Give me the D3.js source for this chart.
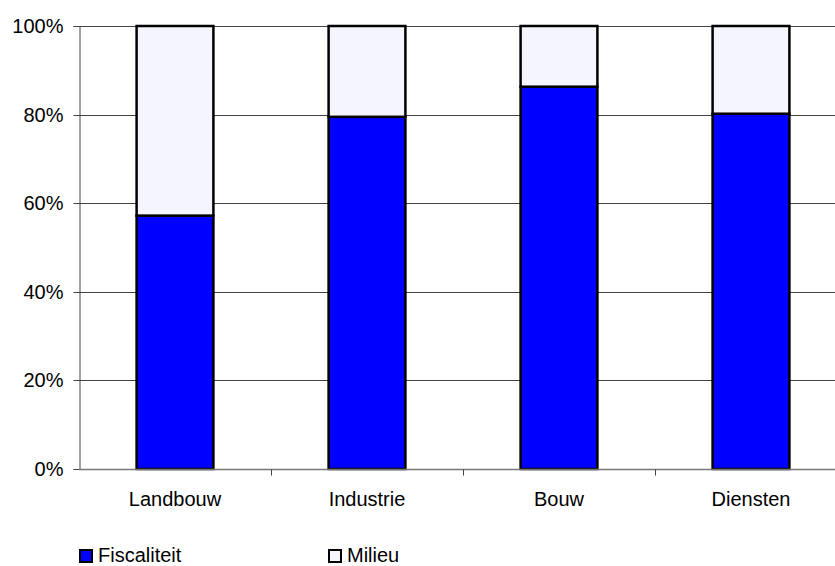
<!DOCTYPE html>
<html><head><meta charset="utf-8">
<script src="https://cdn.jsdelivr.net/npm/d3@7"></script>
<style>body{margin:0;background:#fff}svg{display:block}text{font-family:"Liberation Sans",Arial,sans-serif}</style>
</head><body>
<svg id="c" width="835" height="566"></svg>
<script>
const categories = ["Landbouw","Industrie","Bouw","Diensten"];
const fiscaliteit = [0.572, 0.795, 0.863, 0.802];
const milieu = [0.428, 0.205, 0.137, 0.198];
const seriesNames = ["Fiscaliteit","Milieu"];
const seriesColors = ["#0000ff","#f5f5ff"];
const yTicks = [0,0.2,0.4,0.6,0.8,1.0];

(function(){
const svg = d3.select("#c");
const mLeft = 79, mTop = 26, mBottom = 469, mRight = 847;
const FS = 20;
const x = d3.scaleBand().domain(categories).range([mLeft,mRight]).paddingInner(0.6).paddingOuter(0.3);
const xb = d3.scaleBand().domain(categories).range([mLeft,mRight]);
const y = d3.scaleLinear().domain([0,1]).range([mBottom,mTop]);

// gridlines
svg.append("g").selectAll("line").data(yTicks.slice(1)).join("line")
  .attr("x1",mLeft).attr("x2",835).attr("y1",d=>Math.round(y(d))+0.5).attr("y2",d=>Math.round(y(d))+0.5)
  .attr("stroke","#444").attr("stroke-width",1);

// y axis
const ya = svg.append("g").attr("transform",`translate(${mLeft+0.5},0)`)
  .call(d3.axisLeft(y).tickValues(yTicks).tickFormat(d3.format(".0%")).tickSize(6).tickPadding(10));
ya.attr("font-size",FS).attr("font-family","Liberation Sans, Arial, sans-serif");
ya.select(".domain").attr("stroke","#444");
ya.selectAll(".tick line").attr("stroke","#444");
ya.selectAll("text").attr("fill","#000");
ya.selectAll(".tick").attr("transform",d=>`translate(0,${Math.round(y(d))+0.5})`);

// stacked bars
const data = categories.map((c,i)=>({c, f:fiscaliteit[i], m:milieu[i]}));
const stack = d3.stack().keys(["f","m"])(data);
svg.append("g").selectAll("g").data(stack).join("g")
  .attr("fill",(d,i)=>seriesColors[i])
  .selectAll("rect").data(d=>d).join("rect")
  .attr("x",d=>x(d.data.c)).attr("width",x.bandwidth())
  .attr("y",d=>y(d[1])).attr("height",d=>y(d[0])-y(d[1]))
  .attr("stroke","#000").attr("stroke-width",2.5);

// x axis
const xa = svg.append("g").attr("transform",`translate(0,${mBottom+0.5})`);
xa.append("line").attr("x1",mLeft).attr("x2",835).attr("stroke","#777").attr("stroke-width",1.5);
xa.selectAll("line.t").data(categories.slice(1)).join("line").attr("class","t")
  .attr("x1",d=>Math.round(xb(d))+0.5).attr("x2",d=>Math.round(xb(d))+0.5).attr("y1",0).attr("y2",6)
  .attr("stroke","#444");
xa.selectAll("text").data(categories).join("text")
  .attr("x",d=>x(d)+x.bandwidth()/2).attr("y",36).attr("text-anchor","middle")
  .attr("font-size",FS).text(d=>d);

// legend
const lx = [79, 328];
const lg = svg.append("g").selectAll("g").data(seriesNames).join("g")
  .attr("transform",(d,i)=>`translate(${lx[i]},549)`);
lg.append("rect").attr("x",1).attr("y",1).attr("width",12).attr("height",12)
  .attr("fill",(d,i)=>seriesColors[i]).attr("stroke","#000").attr("stroke-width",2);
lg.append("text").attr("x",19).attr("y",13).attr("font-size",FS).text(d=>d);
})();
</script>
</body></html>
